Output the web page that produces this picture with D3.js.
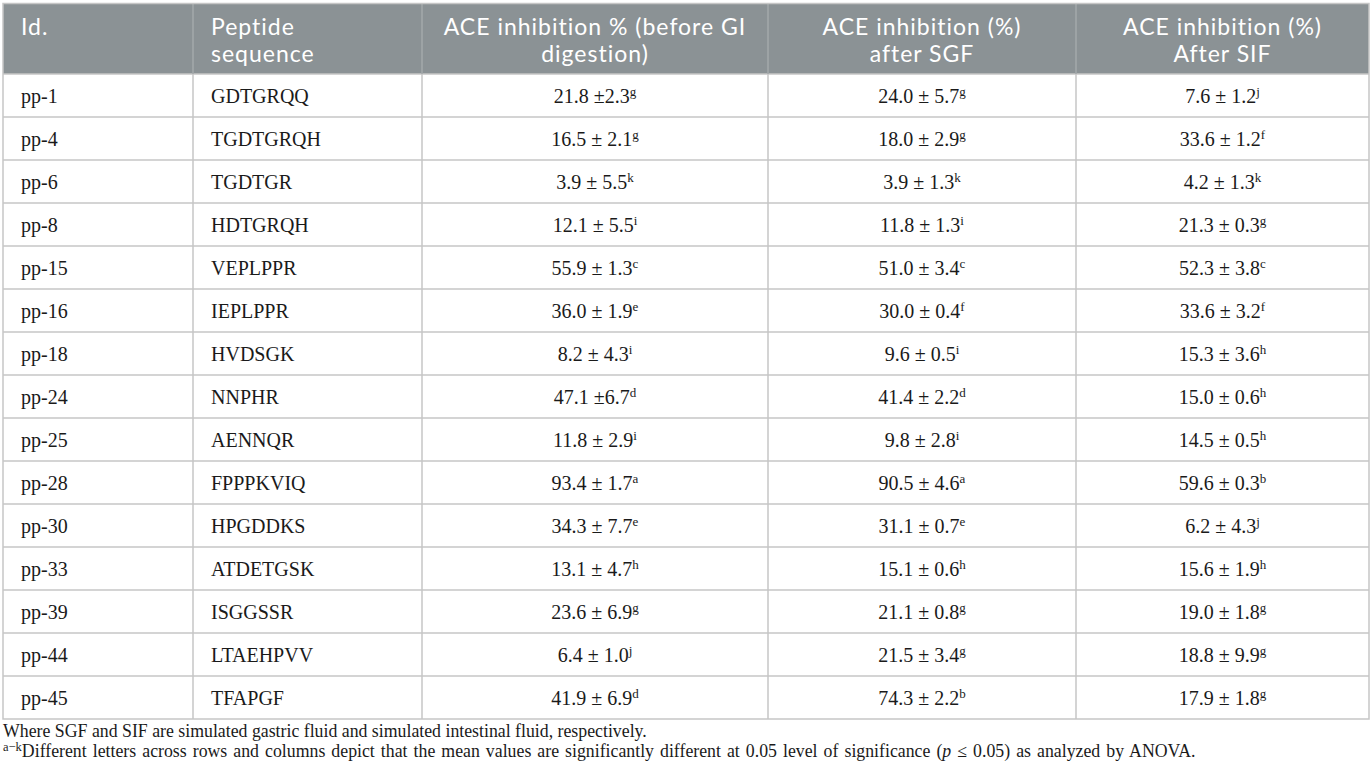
<!DOCTYPE html>
<html>
<head>
<meta charset="utf-8">
<script src="https://cdn.jsdelivr.net/npm/d3@7"></script>
<style>
  body { margin: 0; background: #fff; }
  svg { display: block; }
</style>
</head>
<body>
<div id="table"></div>
<script>
// table content
var headers = [
  ["Id."],
  ["Peptide", "sequence"],
  ["ACE inhibition % (before GI", "digestion)"],
  ["ACE inhibition (%)", "after SGF"],
  ["ACE inhibition (%)", "After SIF"]
];

var ids = ["pp-1", "pp-4", "pp-6", "pp-8", "pp-15", "pp-16", "pp-18", "pp-24",
  "pp-25", "pp-28", "pp-30", "pp-33", "pp-39", "pp-44", "pp-45"];

var sequences = ["GDTGRQQ", "TGDTGRQH", "TGDTGR", "HDTGRQH", "VEPLPPR", "IEPLPPR",
  "HVDSGK", "NNPHR", "AENNQR", "FPPPKVIQ", "HPGDDKS", "ATDETGSK", "ISGGSSR",
  "LTAEHPVV", "TFAPGF"];

// mean ± sd, with significance letter
var beforeGI = ["21.8 ±2.3", "16.5 ± 2.1", "3.9 ± 5.5", "12.1 ± 5.5", "55.9 ± 1.3",
  "36.0 ± 1.9", "8.2 ± 4.3", "47.1 ±6.7", "11.8 ± 2.9", "93.4 ± 1.7", "34.3 ± 7.7",
  "13.1 ± 4.7", "23.6 ± 6.9", "6.4 ± 1.0", "41.9 ± 6.9"];
var beforeGILetters = ["g", "g", "k", "i", "c", "e", "i", "d", "i", "a", "e", "h", "g", "j", "d"];

var afterSGF = ["24.0 ± 5.7", "18.0 ± 2.9", "3.9 ± 1.3", "11.8 ± 1.3", "51.0 ± 3.4",
  "30.0 ± 0.4", "9.6 ± 0.5", "41.4 ± 2.2", "9.8 ± 2.8", "90.5 ± 4.6", "31.1 ± 0.7",
  "15.1 ± 0.6", "21.1 ± 0.8", "21.5 ± 3.4", "74.3 ± 2.2"];
var afterSGFLetters = ["g", "g", "k", "i", "c", "f", "i", "d", "i", "a", "e", "h", "g", "g", "b"];

var afterSIF = ["7.6 ± 1.2", "33.6 ± 1.2", "4.2 ± 1.3", "21.3 ± 0.3", "52.3 ± 3.8",
  "33.6 ± 3.2", "15.3 ± 3.6", "15.0 ± 0.6", "14.5 ± 0.5", "59.6 ± 0.3", "6.2 ± 4.3",
  "15.6 ± 1.9", "19.0 ± 1.8", "18.8 ± 9.9", "17.9 ± 1.8"];
var afterSIFLetters = ["j", "f", "k", "g", "c", "f", "h", "h", "h", "b", "j", "h", "g", "g", "g"];

var footnote1 = "Where SGF and SIF are simulated gastric fluid and simulated intestinal fluid, respectively.";

////////////////////////////////////////////////////////////////////////////////

const WIDTH = 1372;
const HEIGHT = 775;

var tableLeft = 3, tableRight = 1369,
  tableTop = 3.5, headerBottom = 74, tableBottom = 719;

// relative column widths
var colWidths = [190, 229, 346, 308, 293];
var colEdges = [0].concat(Array.from(d3.cumsum(colWidths)));

var x = d3.scaleLinear()
  .domain([0, d3.sum(colWidths)])
  .range([tableLeft, tableRight]);

var y = d3.scaleBand()
  .domain(ids)
  .range([headerBottom, tableBottom]);

var lineColor = "#c6c6c6";
var headFill = "#8b9295";
var serif = "'Liberation Serif', 'Times New Roman', serif";
var sans = "Lato, 'Open Sans', sans-serif";

var svg = d3.select("#table")
  .append("svg")
  .attr("width", WIDTH)
  .attr("height", HEIGHT);

// header band
svg.append("rect")
  .attr("x", tableLeft)
  .attr("y", tableTop)
  .attr("width", tableRight - tableLeft)
  .attr("height", headerBottom - tableTop)
  .attr("fill", headFill);

// row lines
svg.append("g")
  .selectAll("line")
  .data(ids)
  .join("line")
  .attr("x1", tableLeft)
  .attr("x2", tableRight)
  .attr("y1", d => y(d))
  .attr("y2", d => y(d))
  .attr("stroke", lineColor)
  .attr("stroke-width", 1.5);

// column lines (header part is a bit lighter)
var inner = colEdges.slice(1, -1);
svg.append("g")
  .selectAll("line")
  .data(inner)
  .join("line")
  .attr("x1", d => x(d))
  .attr("x2", d => x(d))
  .attr("y1", tableTop)
  .attr("y2", headerBottom)
  .attr("stroke", "#a3a9ab")
  .attr("stroke-width", 1.5);
svg.append("g")
  .selectAll("line")
  .data(inner)
  .join("line")
  .attr("x1", d => x(d))
  .attr("x2", d => x(d))
  .attr("y1", headerBottom)
  .attr("y2", tableBottom)
  .attr("stroke", lineColor)
  .attr("stroke-width", 1.5);

// outer border
svg.append("rect")
  .attr("x", tableLeft)
  .attr("y", tableTop)
  .attr("width", tableRight - tableLeft)
  .attr("height", tableBottom - tableTop)
  .attr("fill", "none")
  .attr("stroke", lineColor)
  .attr("stroke-width", 1.5);

// header text
var pad = 18;
var headSize = 23;
headers.forEach(function (lines, i) {
  var left = i < 2;
  var t = svg.append("text")
    .attr("x", left ? x(colEdges[i]) + pad : (x(colEdges[i]) + x(colEdges[i + 1])) / 2)
    .attr("y", 34.5)
    .attr("text-anchor", left ? "start" : "middle")
    .attr("font-family", sans)
    .attr("font-size", headSize)
    .attr("letter-spacing", 1)
    .attr("fill", "#fff");
  lines.forEach(function (s, j) {
    t.append("tspan")
      .attr("x", t.attr("x"))
      .attr("dy", j === 0 ? 0 : headSize * 1.21)
      .text(s);
  });
});

// body
var valueCols = [
  { values: beforeGI, letters: beforeGILetters },
  { values: afterSGF, letters: afterSGFLetters },
  { values: afterSIF, letters: afterSIFLetters }
];

var body = svg.append("g")
  .attr("font-family", serif)
  .attr("font-size", 20)
  .attr("fill", "#1a1a1a");

var base = y.bandwidth() / 2 + 7;

body.selectAll("text.id")
  .data(ids)
  .join("text")
  .attr("class", "id")
  .attr("x", x(colEdges[0]) + pad)
  .attr("y", d => y(d) + base)
  .text(d => d);

body.selectAll("text.seq")
  .data(sequences)
  .join("text")
  .attr("class", "seq")
  .attr("x", x(colEdges[1]) + pad)
  .attr("y", (d, i) => y(ids[i]) + base)
  .text(d => d);

valueCols.forEach(function (col, c) {
  var cx = (x(colEdges[c + 2]) + x(colEdges[c + 3])) / 2;
  var cells = body.selectAll("text.v" + c)
    .data(col.values)
    .join("text")
    .attr("class", "v" + c)
    .attr("x", cx)
    .attr("y", (d, i) => y(ids[i]) + base)
    .attr("text-anchor", "middle");
  cells.append("tspan").text(d => d);
  cells.append("tspan")
    .attr("dy", -7)
    .attr("font-size", 13)
    .text((d, i) => col.letters[i]);
});

// footnotes
var foot = svg.append("g")
  .attr("font-family", serif)
  .attr("font-size", 17.8)
  .attr("fill", "#1a1a1a");

foot.append("text")
  .attr("x", tableLeft)
  .attr("y", 737)
  .text(footnote1);

var f2 = foot.append("text")
  .attr("x", tableLeft)
  .attr("y", 757)
  .attr("word-spacing", 1.6);
f2.append("tspan").attr("font-size", 12.5).attr("dy", -6).text("a\u2212k");
f2.append("tspan").attr("dy", 6).text("Different letters across rows and columns depict that the mean values are significantly different at 0.05 level of significance (");
f2.append("tspan").attr("font-style", "italic").text("p");
f2.append("tspan").text(" \u2264 0.05) as analyzed by ANOVA.");
</script>
</body>
</html>
